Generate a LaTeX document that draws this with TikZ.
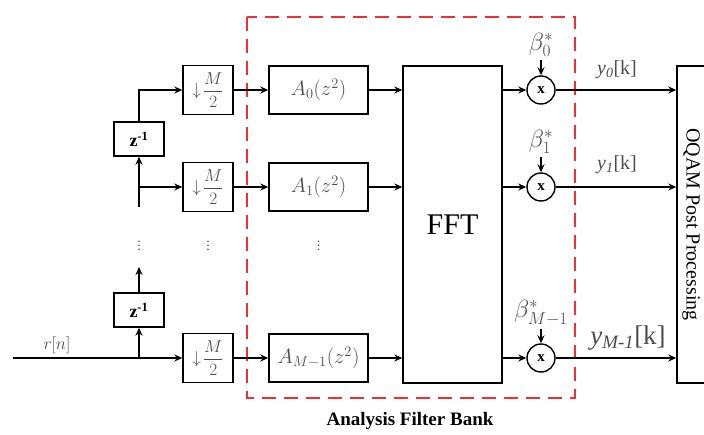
\documentclass[tikz,border=0pt]{standalone}
\usepackage{fontspec}
\setmainfont{Liberation Serif}
\usepackage{amsmath}
\usepackage{tikz}
\usetikzlibrary{shapes.geometric, arrows.meta}
\usetikzlibrary{positioning}
\definecolor{mathgray}{gray}{0.3}
\definecolor{dashred}{RGB}{245,45,50}
\tikzstyle{decim} = [rectangle, 
minimum width=50pt, 
minimum height=49pt, 
inner sep=0pt, 
draw=black, line width=1.4pt, 
text=mathgray, 
font=\fontsize{17}{19}\selectfont]
\tikzstyle{delay} = [rectangle, 
minimum width=50pt, 
minimum height=34pt, 
inner sep=0pt, 
draw=black, line width=1.4pt, 
font=\fontsize{18}{20}\selectfont\bfseries]
\tikzstyle{filter} = [rectangle, 
minimum width=99pt, 
minimum height=48pt, 
inner sep=0pt, 
draw=black, line width=1.4pt, 
text=mathgray, 
font=\fontsize{22}{24}\selectfont]
\tikzstyle{bank} = [rectangle, 
minimum width=99pt, 
minimum height=317pt, 
draw=black, line width=1.4pt, 
font=\fontsize{30}{32}\selectfont]
\tikzstyle{mult} = [circle, 
minimum size=28pt, 
inner sep=0pt, 
draw=black, line width=1.4pt, 
font=\fontsize{15}{17}\selectfont\bfseries]
\tikzstyle{coef} = [text=mathgray, font=\fontsize{24}{26}\selectfont]
\tikzstyle{outlabel} = [text=mathgray, font=\fontsize{20}{22}\selectfont]
\tikzstyle{arrow} = [line width=1.3pt,->,>={Stealth[length=8pt,width=7pt]}]
\tikzstyle{dotsnode} = [font=\fontsize{14}{14}\selectfont, text=mathgray, inner sep=0pt]

\begin{document}
\begin{tikzpicture}[x=1pt, y=1pt, node distance=110.5pt]
\useasboundingbox (0,0) rectangle (704,434);

        % decimators and delays
        \node (d0) [decim] at (208,344) {$\downarrow\!\dfrac{M}{2}$};
        \node (d1) [decim] at (208,247) {$\downarrow\!\dfrac{M}{2}$};
        \node (d2) [decim] at (208,76) {$\downarrow\!\dfrac{M}{2}$};
        \node (z0) [delay] at (139,295) {z\textsuperscript{-1}};
        \node (z1) [delay] at (139,124) {z\textsuperscript{-1}};

        % polyphase filters
        \node (a0) [filter, right of = d0] {$A_0(z^2)$};
        \node (a1) [filter, right of = d1] {$A_1(z^2)$};
        \node (a2) [filter, right of = d2] {$A_{M-1}(z^2)$};
        \node (fft) [bank] at (452.5,209.5) {FFT};

        % multipliers
        \node (m0) [mult, right of = a0, xshift = 112pt] {x};
        \node (m1) [mult, right of = a1, xshift = 112pt] {x};
        \node (m2) [mult, right of = a2, xshift = 112pt] {x};
        \node (b0) [coef, above of = m0, node distance = 45pt] {$\beta_0^*$};
        \node (b1) [coef, above of = m1, node distance = 45pt] {$\beta_1^*$};
        \node (b2) [coef, above of = m2, node distance = 45pt] {$\beta_{M-1}^*$};

        \node (oqam) [rectangle, draw=black, line width=1.4pt, 
        minimum width=60pt, minimum height=317pt] at (707,209.5) {};
        \node (oqamtxt) [rotate=-90, font=\fontsize{20}{22}\selectfont] 
        at (691,209.5) {OQAM Post Processing};

        % labels
        \node (rn) [text=mathgray, font=\fontsize{19}{21}\selectfont] at (57,89) {$r[n]$};
        \node (y0) [outlabel] at (617,364) {\textit{y}\textsubscript{\textit{0}}[k]};
        \node (y1) [outlabel] at (617,269) {\textit{y}\textsubscript{\textit{1}}[k]};
        \node (y2) [outlabel, font=\fontsize{27}{29}\selectfont] at (628,96) 
        {\textit{y}\textsubscript{\textit{M-1}}[k]};
        \node (title) [font=\fontsize{19}{21}\selectfont\bfseries] at (410,13) {Analysis Filter Bank};

        \node (dots0) [dotsnode] at (139,191) {$\vdots$};
        \node (dots1) [dotsnode] at (208,191) {$\vdots$};
        \node (dots2) [dotsnode] at (318.5,191) {$\vdots$};

        \coordinate (in) at (13,76);
        \coordinate (dn1) at (139,227);
        \coordinate (up1) at (139,167);

        \draw [dashed, dashred, line width=1.5pt, dash pattern=on 14pt off 8pt] 
        (247,417) rectangle (575,36);

        % input and delay chain
        \draw [arrow] (in) -- (d2);
        \draw [arrow] (z1 |- d2) -- (z1.south);
        \draw [arrow] (z1.north) -- (up1);
        \draw [arrow] (dn1) -- (z0.south);
        \draw [arrow] (z0 |- d1) -- (d1);
        \draw [arrow] (z0.north) |- (d0);

        \draw [arrow] (d0) -- (a0);
        \draw [arrow] (d1) -- (a1);
        \draw [arrow] (d2) -- (a2);
        \draw [arrow] (a0) -- (a0 -| fft.west);
        \draw [arrow] (a1) -- (a1 -| fft.west);
        \draw [arrow] (a2) -- (a2 -| fft.west);

        \draw [arrow] (fft.east |- m0) -- (m0);
        \draw [arrow] (fft.east |- m1) -- (m1);
        \draw [arrow] (fft.east |- m2) -- (m2);
        \draw [arrow] (b0) -- (m0);
        \draw [arrow] (b1) -- (m1);
        \draw [arrow] (b2) -- (m2);
        \draw [arrow] (m0) -- (m0 -| oqam.west);
        \draw [arrow] (m1) -- (m1 -| oqam.west);
        \draw [arrow] (m2) -- (m2 -| oqam.west);

\end{tikzpicture}
\end{document}
